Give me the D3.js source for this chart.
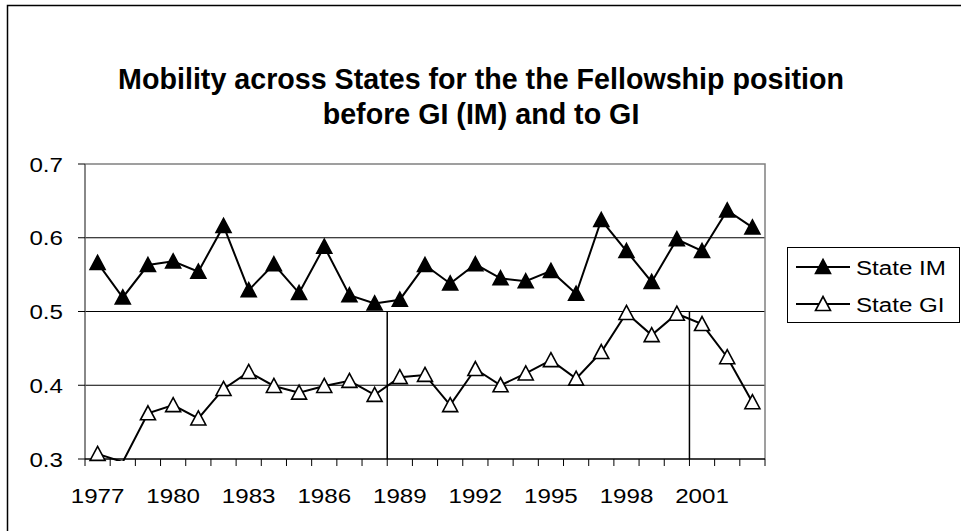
<!DOCTYPE html>
<html>
<head>
<meta charset="utf-8">
<script src="https://cdn.jsdelivr.net/npm/d3@7"></script>
<style>
  html, body { margin: 0; padding: 0; background: #fff; }
  svg { display: block; }
</style>
</head>
<body>
<script>
// ---------------- data ----------------
const years = [1977, 1978, 1979, 1980, 1981, 1982, 1983, 1984, 1985, 1986, 1987, 1988, 1989,
               1990, 1991, 1992, 1993, 1994, 1995, 1996, 1997, 1998, 1999, 2000, 2001, 2002, 2003];
const stateIM = [0.566, 0.519, 0.563, 0.568, 0.554, 0.616, 0.529, 0.564, 0.525, 0.588, 0.522, 0.511, 0.516,
                 0.563, 0.538, 0.564, 0.545, 0.541, 0.555, 0.524, 0.624, 0.582, 0.540, 0.598, 0.582, 0.637, 0.614];
const stateGI = [0.307, 0.296, 0.362, 0.373, 0.355, 0.395, 0.418, 0.399, 0.390, 0.399, 0.406, 0.387, 0.411,
                 0.414, 0.373, 0.422, 0.400, 0.416, 0.434, 0.409, 0.445, 0.498, 0.468, 0.497, 0.483, 0.438, 0.377];
const yTickValues = [0.3, 0.4, 0.5, 0.6, 0.7];
const yTickLabels = ["0.3", "0.4", "0.5", "0.6", "0.7"];
const xTickLabelYears = [1977, 1980, 1983, 1986, 1989, 1992, 1995, 1998, 2001];
const dividerYears = [1989, 2001];   // vertical lines drawn at the start of these years
const dividerRange = [0.3, 0.5];
const seriesNames = ["State IM", "State GI"];
const titleLines = ["Mobility across States for the the Fellowship position", "before GI (IM) and to GI"];

// ---------------- layout ----------------
const W = 961, H = 531;
const plot = { left: 85, right: 765, top: 164, bottom: 459 };
const FONT = "'Liberation Sans', Arial, sans-serif";
const SX = 1.15; // horizontal stretch of the original's text

const svg = d3.select("body").append("svg").attr("width", W).attr("height", H);

// outer chart border (only top/left visible in the reference)
svg.append("rect").attr("x", 7.5).attr("y", 5.5).attr("width", 1200).attr("height", 800)
  .attr("fill", "#fff").attr("stroke", "#000").attr("stroke-width", 1.5);

const x = d3.scaleBand().domain(years).range([plot.left, plot.right]).paddingInner(0).paddingOuter(0);
const y = d3.scaleLinear().domain([0.3, 0.7]).range([plot.bottom, plot.top]);
const cx = d => x(d) + x.bandwidth() / 2;

// title
svg.append("g").selectAll("text").data(titleLines).join("text")
  .attr("transform", (d, i) => `translate(481,${89 + i * 35}) scale(0.955,1)`)
  .attr("text-anchor", "middle")
  .attr("font-family", FONT).attr("font-weight", "bold").attr("font-size", 30)
  .attr("fill", "#000").text(d => d);

// gridlines
svg.append("g").selectAll("line").data(yTickValues.filter(v => v > 0.3 && v < 0.7)).join("line")
  .attr("x1", plot.left).attr("x2", plot.right)
  .attr("y1", d => y(d)).attr("y2", d => y(d))
  .attr("stroke", "#000").attr("stroke-width", 1);

// plot border (top, right)
svg.append("path")
  .attr("d", `M${plot.left},${y(0.7)}H${plot.right}V${plot.bottom}`)
  .attr("fill", "none").attr("stroke", "#808080").attr("stroke-width", 1.5);

// divider lines
svg.append("g").selectAll("line").data(dividerYears).join("line")
  .attr("x1", d => x(d)).attr("x2", d => x(d))
  .attr("y1", y(dividerRange[1])).attr("y2", y(dividerRange[0]))
  .attr("stroke", "#000").attr("stroke-width", 1.5);

// y axis
const yAxis = svg.append("g");
yAxis.append("line").attr("x1", plot.left).attr("x2", plot.left).attr("y1", plot.top).attr("y2", plot.bottom)
  .attr("stroke", "#606060").attr("stroke-width", 1.5);
yAxis.selectAll("line.tick").data(yTickValues).join("line").attr("class", "tick")
  .attr("x1", plot.left - 7).attr("x2", plot.left).attr("y1", d => y(d)).attr("y2", d => y(d))
  .attr("stroke", "#000").attr("stroke-width", 1);
yAxis.selectAll("text").data(yTickValues).join("text")
  .attr("transform", d => `translate(63,${y(d) + 7.5}) scale(${SX},1)`)
  .attr("text-anchor", "end").attr("font-family", FONT).attr("font-size", 21).attr("fill", "#000")
  .text((d, i) => yTickLabels[i]);

// x axis
const xAxis = svg.append("g");
xAxis.append("line").attr("x1", plot.left).attr("x2", plot.right).attr("y1", plot.bottom).attr("y2", plot.bottom)
  .attr("stroke", "#000").attr("stroke-width", 1.5);
xAxis.selectAll("line.tick").data(years.concat(["end"])).join("line").attr("class", "tick")
  .attr("x1", d => d === "end" ? plot.right : x(d)).attr("x2", d => d === "end" ? plot.right : x(d))
  .attr("y1", plot.bottom).attr("y2", plot.bottom + 7)
  .attr("stroke", "#000").attr("stroke-width", 1);
xAxis.selectAll("text").data(xTickLabelYears).join("text")
  .attr("transform", d => `translate(${cx(d)},${plot.bottom + 44}) scale(${SX},1)`)
  .attr("text-anchor", "middle").attr("font-family", FONT).attr("font-size", 21).attr("fill", "#000")
  .text(d => d);

// clip for lines
svg.append("clipPath").attr("id", "plotclip").append("rect")
  .attr("x", plot.left).attr("y", plot.top - 10).attr("width", plot.right - plot.left + 10)
  .attr("height", plot.bottom - plot.top + 12);

const tri = "M0,-7L7.5,7L-7.5,7Z";
const series = [
  { name: seriesNames[0], values: stateIM, fill: "#000" },
  { name: seriesNames[1], values: stateGI, fill: "#fff" }
];
const line = d3.line().x((d, i) => cx(years[i])).y(d => y(d));

series.forEach(s => {
  const g = svg.append("g");
  g.append("path").attr("d", line(s.values)).attr("clip-path", "url(#plotclip)")
    .attr("fill", "none").attr("stroke", "#000").attr("stroke-width", 2).attr("stroke-linejoin", "miter");
  g.selectAll("path.m").data(s.values.map((v, i) => ({ v, yr: years[i] })).filter(d => d.v >= 0.3 && d.v <= 0.7))
    .join("path").attr("class", "m")
    .attr("d", tri).attr("transform", d => `translate(${cx(d.yr)},${y(d.v) - 0.5})`)
    .attr("fill", s.fill).attr("stroke", "#000").attr("stroke-width", 1.6);
});

// legend
const lg = svg.append("g");
lg.append("rect").attr("x", 787.5).attr("y", 247.5).attr("width", 172).attr("height", 75)
  .attr("fill", "#fff").attr("stroke", "#000").attr("stroke-width", 1);
series.forEach((s, i) => {
  const ly = 267 + i * 37;
  lg.append("line").attr("x1", 796).attr("x2", 850).attr("y1", ly).attr("y2", ly)
    .attr("stroke", "#000").attr("stroke-width", 2);
  lg.append("path").attr("d", tri).attr("transform", `translate(823,${ly - 0.5})`)
    .attr("fill", s.fill).attr("stroke", "#000").attr("stroke-width", 1.6);
  lg.append("text").attr("transform", `translate(856,${ly + 7.5}) scale(${SX},1)`)
    .attr("font-family", FONT).attr("font-size", 21).attr("fill", "#000").text(s.name);
});
</script>
</body>
</html>
